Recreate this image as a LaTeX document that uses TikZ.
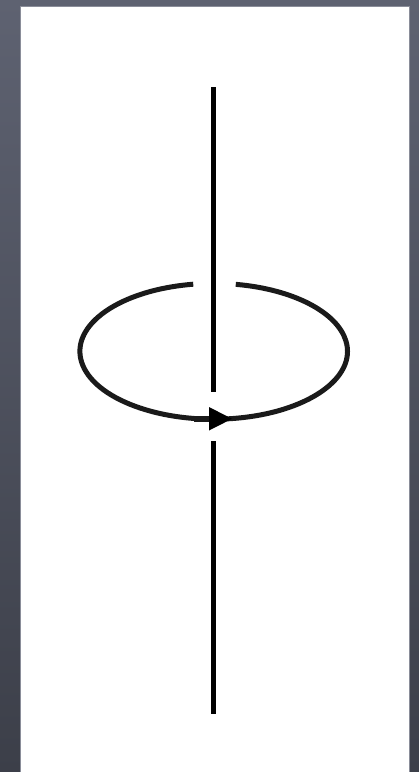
\documentclass[tikz,border=0pt]{standalone}
\usetikzlibrary{shadings}
\definecolor{bgtop}{HTML}{5E6271}
\definecolor{bgbot}{HTML}{3C3F49}
\definecolor{frameedge}{HTML}{8A8D99}
\definecolor{loopcol}{HTML}{1A1A1A}
\tikzset{
  axisline/.style={line width=5.5pt, black},
  loopline/.style={line width=5pt, loopcol},
}
\begin{document}
\begin{tikzpicture}[x=1pt,y=-1pt]
  \useasboundingbox (0,0) rectangle (419,772);
  \shade[top color=bgtop, bottom color=bgbot] (0,0) rectangle (419,772);
  \filldraw[fill=white, draw=frameedge, line width=1pt] (20,6) rectangle (409,775);
  % vertical axis
  \coordinate (atop) at (213.3,87);
  \coordinate (agap1) at (213.3,392);
  \coordinate (agap2) at (213.3,441);
  \coordinate (abot) at (213.3,714);
  \draw[axisline] (atop) -- (agap1);
  \draw[axisline] (agap2) -- (abot);
  % loop (ellipse with a gap at the top); y axis points down, so angles go negative
  \coordinate (c) at (213.7,351.3);
  \draw[loopline] ([shift={(98.8:133.8 and -67.9)}]c) arc[start angle=98.8, end angle=440.5, x radius=133.8, y radius=-67.9];
  % arrow head
  \coordinate (tip) at (232,418.8);
  \draw[line width=6pt, loopcol] (194,418.8) -- (210,418.8);
  \fill[black] (tip) -- (209,407) -- (209,430.5) -- cycle;
\end{tikzpicture}
\end{document}
